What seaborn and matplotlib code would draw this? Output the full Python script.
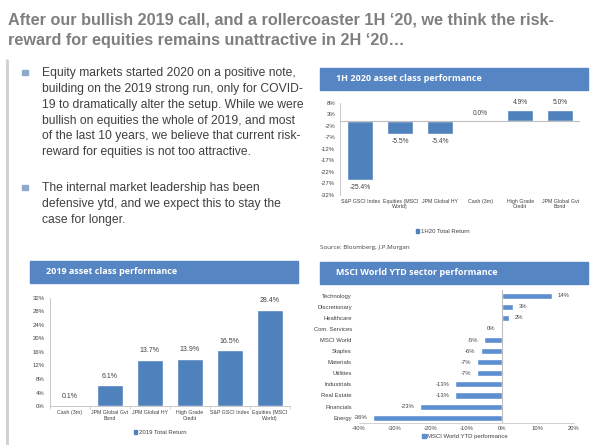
import numpy as np
import matplotlib
matplotlib.use("Agg")
import matplotlib.pyplot as plt
import matplotlib.patches as mpatches
from matplotlib.lines import Line2D
import seaborn as sns

sns.set_theme(style="white")
plt.rcParams['font.family'] = ['Liberation Sans', 'DejaVu Sans']

# DATA
h1_labels = ["S&P GSCI Index", "Equities (MSCI\nWorld)", "JPM Global HY",
             "Cash (3m)", "High Grade\nCredit", "JPM Global Gvt\nBond"]
h1_values = [-25.4, -5.5, -5.4, 0.0, 4.9, 5.0]

y19_labels = ["Cash (3m)", "JPM Global Gvt\nBond", "JPM Global HY",
              "High Grade\nCredit", "S&P GSCI Index", "Equities (MSCI\nWorld)"]
y19_values = [0.1, 6.1, 13.7, 13.9, 16.5, 28.4]

sector_labels = ["Technology", "Discretionary", "Healthcare", "Com. Services",
                 "MSCI World", "Staples", "Materials", "Utilities",
                 "Industrials", "Real Estate", "Financials", "Energy"]
sector_values = [14, 3, 2, -0.3, -5, -6, -7, -7, -13, -13, -23, -36]

h1_ticks = [8, 3, -2, -7, -12, -17, -22, -27, -32]
y19_ticks = [0, 4, 8, 12, 16, 20, 24, 28, 32]
sector_ticks = [-40, -30, -20, -10, 0, 10, 20]

BLUE = "#4f81bd"
BLUE2 = "#5b8fd0"
HEAD = "#5585c3"
AXC = "#bfbfbf"
TXT = "#404040"
NARROW = ['DejaVu Sans Condensed', 'Liberation Sans', 'DejaVu Sans']

fig = plt.figure(figsize=(6, 4.45), dpi=100)
fig.patch.set_facecolor("white")

# TITLE
fig.text(0.013, 0.972, "After our bullish 2019 call, and a rollercoaster 1H \u201820, we think the risk-\n"
         "reward for equities remains unattractive in 2H \u201820\u2026",
         fontsize=11.7, fontweight='bold', color="#7f7f7f", va='top', ha='left', linespacing=1.45)

# left grey line
fig.add_artist(Line2D([0.012, 0.012], [0, 1 - 60 / 445], transform=fig.transFigure,
                      color="#cfcfcf", lw=2))

# BULLETS
bullet1 = ("Equity markets started 2020 on a positive note,\n"
           "building on the 2019 strong run, only for COVID-\n"
           "19 to dramatically alter the setup. While we were\n"
           "bullish on equities the whole of 2019, and most\n"
           "of the last 10 years, we believe that current risk-\n"
           "reward for equities is not too attractive.")
bullet2 = ("The internal market leadership has been\n"
           "defensive ytd, and we expect this to stay the\n"
           "case for longer.")
for ytop, txt in [(1 - 67 / 445, bullet1), (1 - 182 / 445, bullet2)]:
    fig.text(0.07, ytop, txt, fontsize=8.75, color=TXT, va='top', ha='left', linespacing=1.43)
    fig.add_artist(mpatches.Rectangle((0.037, ytop - 0.019), 0.009, 0.012,
                                      transform=fig.transFigure, color="#8eaacb"))


def header(x0, ytop, text):
    fig.add_artist(mpatches.Rectangle((x0, ytop - 0.049), 0.447, 0.049,
                                      transform=fig.transFigure, color=HEAD))
    fig.text(x0 + 0.027, ytop - 0.0245, text, color="white", fontsize=6.5,
             fontweight='bold', family=['Open Sans', 'DejaVu Sans'], va='center', ha='left')


def legend(ax, label, color, cx, cy):
    ax.legend(handles=[mpatches.Patch(color=color, label=label)], loc='center',
              bbox_to_anchor=(cx, cy), bbox_transform=fig.transFigure, frameon=False,
              prop={'family': NARROW, 'size': 4.3}, handlelength=0.6, handleheight=0.6,
              handletextpad=0.3, labelcolor=TXT)


# 1H 2020 CHART
header(0.533, 1 - 68 / 445, "1H 2020 asset class performance")
ax1 = fig.add_axes([0.567, 0.562, 0.40, 0.207])
sns.barplot(x=h1_labels, y=h1_values, ax=ax1, color=BLUE, saturation=1, width=0.65)
ax1.set_ylim(-32, 8)
ax1.set_yticks(h1_ticks)
ax1.set_yticklabels([f"{t}%" for t in h1_ticks])
ax1.axhline(0, color=AXC, lw=0.8)
ax1.bar_label(ax1.containers[0], labels=[f"{v:.1f}%" for v in h1_values],
              fontsize=4.8, family=NARROW, color=TXT, padding=3)
legend(ax1, "1H20 Total Return", BLUE, 0.738, 0.479)
fig.text(0.533, 1 - 248 / 445, "Source: Bloomberg, J.P.Morgan", fontsize=4.5, color=TXT,
         family=['Open Sans', 'DejaVu Sans'], va='center')

# 2019 CHART
header(0.05, 1 - 261 / 445, "2019 asset class performance")
ax2 = fig.add_axes([0.083, 0.0876, 0.40, 0.243])
sns.barplot(x=y19_labels, y=y19_values, ax=ax2, color=BLUE, saturation=1, width=0.65)
ax2.set_ylim(0, 32)
ax2.set_yticks(y19_ticks)
ax2.set_yticklabels([f"{t}%" for t in y19_ticks])
ax2.set_xticks(np.arange(-0.5, 6, 1), minor=True)
ax2.bar_label(ax2.containers[0], labels=[f"{v:.1f}%" for v in y19_values],
              fontsize=5, family=NARROW, color=TXT, padding=4)
legend(ax2, "2019 Total Return", BLUE, 0.267, 0.027)

for ax in (ax1, ax2):
    ax.set_xlim(-0.5, 5.5)
    for s in ("top", "right"):
        ax.spines[s].set_visible(False)
    ax.spines["left"].set_color(AXC)
    ax.spines["left"].set_linewidth(0.6)
    ax.tick_params(axis='y', labelsize=4.3, colors=TXT, length=2, width=0.5, pad=1.5)
    ax.tick_params(axis='y', color=AXC)
    ax.tick_params(axis='x', which='major', labelsize=3.8, colors=TXT, length=0, pad=3)
    ax.tick_params(axis='x', which='minor', length=2.5, width=0.5, color=AXC, bottom=True)
    for lab in ax.get_xticklabels() + ax.get_yticklabels():
        lab.set_family(NARROW)
        lab.set_linespacing(1.1)
ax1.spines["bottom"].set_visible(False)
ax2.spines["bottom"].set_color(AXC)
ax2.spines["bottom"].set_linewidth(0.6)

# MSCI WORLD SECTORS
header(0.533, 1 - 262 / 445, "MSCI World YTD sector performance")
ax3 = fig.add_axes([0.598, 0.049, 0.358, 0.299])
sns.barplot(x=sector_values, y=sector_labels, orient='h', ax=ax3, color=BLUE2,
            saturation=1, width=0.55)
ax3.set_xlim(-40, 20)
ax3.set_xticks(sector_ticks)
ax3.set_xticklabels([f"{t}%" for t in sector_ticks])
ax3.axvline(0, color=AXC, lw=0.8)
ax3.bar_label(ax3.containers[0], labels=[f"{round(v)}%" for v in sector_values],
              fontsize=4.2, family=NARROW, color=TXT, padding=4)
for s in ("top", "right", "left"):
    ax3.spines[s].set_visible(False)
ax3.spines["bottom"].set_color(AXC)
ax3.spines["bottom"].set_linewidth(0.5)
ax3.tick_params(axis='y', labelsize=4.2, colors=TXT, length=0, pad=5)
ax3.tick_params(axis='x', labelsize=4.2, colors=TXT, length=0, pad=2)
for lab in ax3.get_xticklabels() + ax3.get_yticklabels():
    lab.set_family(NARROW)
ax3.set_xlabel("")
ax3.set_ylabel("")
legend(ax3, "MSCI World YTD performance", BLUE2, 0.775, 0.018)

fig.savefig("out.png", dpi=100, facecolor="white")
